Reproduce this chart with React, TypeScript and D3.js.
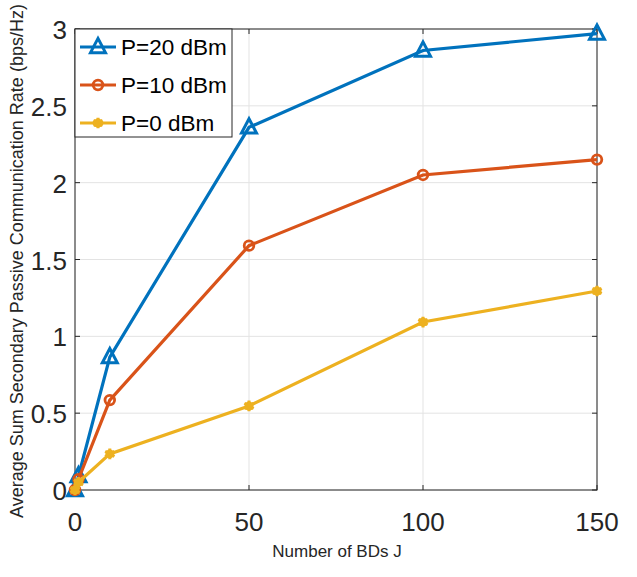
import React from "react";
import * as d3 from "d3";

const J = [0, 1, 10, 50, 100, 150];
const p20 = [0, 0.09, 0.865, 2.36, 2.86, 2.97];
const p10 = [0, 0.07, 0.585, 1.59, 2.05, 2.15];
const p0 = [0, 0.05, 0.235, 0.547, 1.093, 1.295];
const xTicks = [0, 50, 100, 150];
const yTicks = [0, 0.5, 1, 1.5, 2, 2.5, 3];
const seriesNames = ["P=20 dBm", "P=10 dBm", "P=0 dBm"];

const W = 637, H = 577;
const L = 75, R = 597, T = 29, B = 490;
const colors = ["#0072BD", "#D95319", "#EDB120"];

function Marker({ kind, x, y, color }: { kind: number; x: number; y: number; color: string }) {
  if (kind === 0) {
    const s = 7.5;
    return <path d={`M${x},${y - s * 1.15}L${x + s},${y + s * 0.75}L${x - s},${y + s * 0.75}Z`} fill="none" stroke={color} strokeWidth={3} strokeLinejoin="miter" />;
  }
  if (kind === 1) return <circle cx={x} cy={y} r={4.8} fill="none" stroke={color} strokeWidth={2.8} />;
  const sym = d3.symbol().type(d3.symbolAsterisk).size(80)();
  return (
    <g transform={`translate(${x},${y})`}>
      <circle r={4.5} fill={color} />
      <path d={sym || ""} stroke={color} strokeWidth={3} fill="none" />
    </g>
  );
}

export default function App() {
  const x = d3.scaleLinear().domain([0, 150]).range([L, R]);
  const y = d3.scaleLinear().domain([0, 3]).range([B, T]);
  const line = d3.line<number>().x((_, i) => x(J[i])).y((d) => y(d));
  const data = [p20, p10, p0];
  const font = "'Liberation Sans', Arial, Helvetica, sans-serif";
  return (
    <svg width={W} height={H} style={{ position: "absolute", left: 0, top: 0, background: "#fff" }} fontFamily={font}>
      <rect x={0} y={0} width={W} height={H} fill="#fff" />
      {xTicks.map((t) => (
        <line key={"gx" + t} x1={x(t)} x2={x(t)} y1={T} y2={B} stroke="#e3e3e3" strokeWidth={1} />
      ))}
      {yTicks.map((t) => (
        <line key={"gy" + t} x1={L} x2={R} y1={y(t)} y2={y(t)} stroke="#e3e3e3" strokeWidth={1} />
      ))}
      <rect x={L} y={T} width={R - L} height={B - T} fill="none" stroke="#262626" strokeWidth={1} />
      {xTicks.map((t) => (
        <g key={"tx" + t}>
          <line x1={x(t)} x2={x(t)} y1={B} y2={B - 5} stroke="#262626" />
          <line x1={x(t)} x2={x(t)} y1={T} y2={T + 5} stroke="#262626" />
          <text x={x(t)} y={B + 41} textAnchor="middle" fontSize={26} fill="#262626">{t}</text>
        </g>
      ))}
      {yTicks.map((t) => (
        <g key={"ty" + t}>
          <line x1={L} x2={L + 5} y1={y(t)} y2={y(t)} stroke="#262626" />
          <line x1={R} x2={R - 5} y1={y(t)} y2={y(t)} stroke="#262626" />
          <text x={L - 8} y={y(t) + 10} textAnchor="end" fontSize={26} fill="#262626">{t}</text>
        </g>
      ))}
      {data.map((d, si) => (
        <g key={"s" + si}>
          <path d={line(d) || ""} fill="none" stroke={colors[si]} strokeWidth={3.2} />
          {d.map((v, i) => (
            <Marker key={i} kind={si} x={x(J[i])} y={y(v)} color={colors[si]} />
          ))}
        </g>
      ))}
      <g>
        <rect x={L} y={T} width={157} height={108} fill="#fff" stroke="#262626" strokeWidth={1} />
        {seriesNames.map((n, i) => {
          const ly = T + 18 + i * 38;
          return (
            <g key={n}>
              <line x1={L + 5} x2={L + 41} y1={ly} y2={ly} stroke={colors[i]} strokeWidth={3.2} />
              <Marker kind={i} x={L + 23} y={ly} color={colors[i]} />
              <text x={L + 46} y={ly + 8} fontSize={22.5} fill="#000">{n}</text>
            </g>
          );
        })}
      </g>
      <text x={337} y={557} textAnchor="middle" fontSize={17} fill="#262626">Number of BDs J</text>
      <text transform={`translate(23,${518}) rotate(-90)`} textAnchor="start" fontSize={18} fill="#262626">
        Average Sum Secondary Passive Communication Rate (bps/Hz)
      </text>
    </svg>
  );
}
